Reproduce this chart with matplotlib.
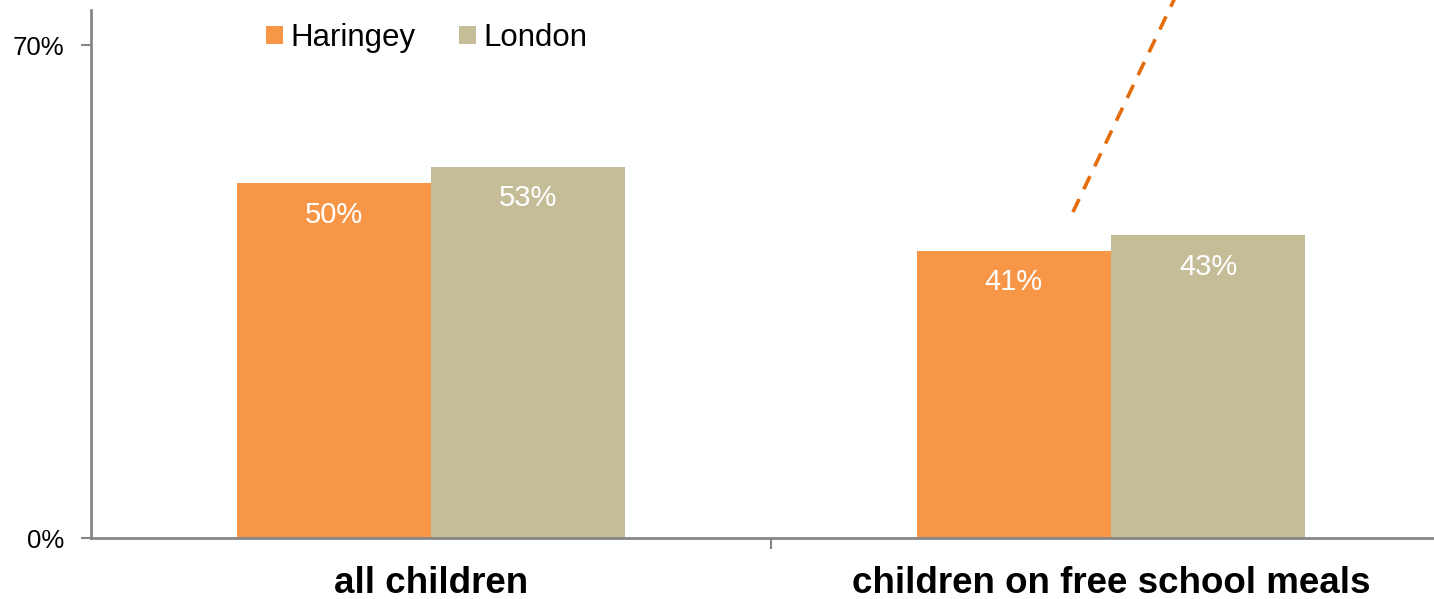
import matplotlib.pyplot as plt
import numpy as np

plt.rcParams['font.family'] = ['Liberation Sans', 'DejaVu Sans']

categories = ["all children", "children on free school meals"]
series = ["Haringey", "London"]
haringey = [0.504, 0.408]
london = [0.527, 0.430]
labels_h = ["50%", "41%"]
labels_l = ["53%", "43%"]
colors = ["#F79646", "#C4BD97"]

fig = plt.figure(figsize=(14.34, 5.99), dpi=100)
ax = fig.add_axes([91/1434, 61/599, 1360/1434, 528/599])

x = np.arange(len(categories))
w = 0.286
b1 = ax.bar(x - w/2, haringey, w, color=colors[0], label=series[0])
b2 = ax.bar(x + w/2, london, w, color=colors[1], label=series[1])

for bars, labs in ((b1, labels_h), (b2, labels_l)):
    for rect, lab in zip(bars, labs):
        ax.annotate(lab, (rect.get_x() + rect.get_width()/2, rect.get_height()),
                    xytext=(0, -12.5), textcoords="offset points",
                    ha='center', va='top', color='white', fontsize=21)

# dashed pointer line going off the top
ax.plot([0.944, 1.12], [0.463, 0.82], ls=(0, (4, 3)), lw=2.6,
        color="#E46C0A", clip_on=False)

ax.set_xlim(-0.5, 1.5)
ax.set_ylim(0, 0.75)
ax.set_yticks([0, 0.7])
ax.set_yticklabels(["0%", "70%"], fontsize=18.5)
ax.set_xticks(x)
ax.set_xticklabels(categories, fontsize=26.5, fontweight='bold')
ax.set_xticks([0.5], minor=True)
ax.tick_params(axis='x', which='major', length=0, pad=20)
ax.tick_params(axis='x', which='minor', length=8, width=1.5, color='#868686')
ax.tick_params(axis='y', length=7, width=1.5, color='#868686', pad=12)

for s in ('top', 'right'):
    ax.spines[s].set_visible(False)
for s in ('left', 'bottom'):
    ax.spines[s].set_color('#868686')
    ax.spines[s].set_linewidth(2)

fig.legend(handles=[b1, b2], labels=series, loc='center left',
           bbox_to_anchor=(266/1434, 1 - 38/599), ncol=2, frameon=False,
           fontsize=22.5, handlelength=0.55, handleheight=0.55, handletextpad=0.23,
           columnspacing=1.4, borderpad=0, borderaxespad=0)

fig.savefig("out.png", dpi=100)
